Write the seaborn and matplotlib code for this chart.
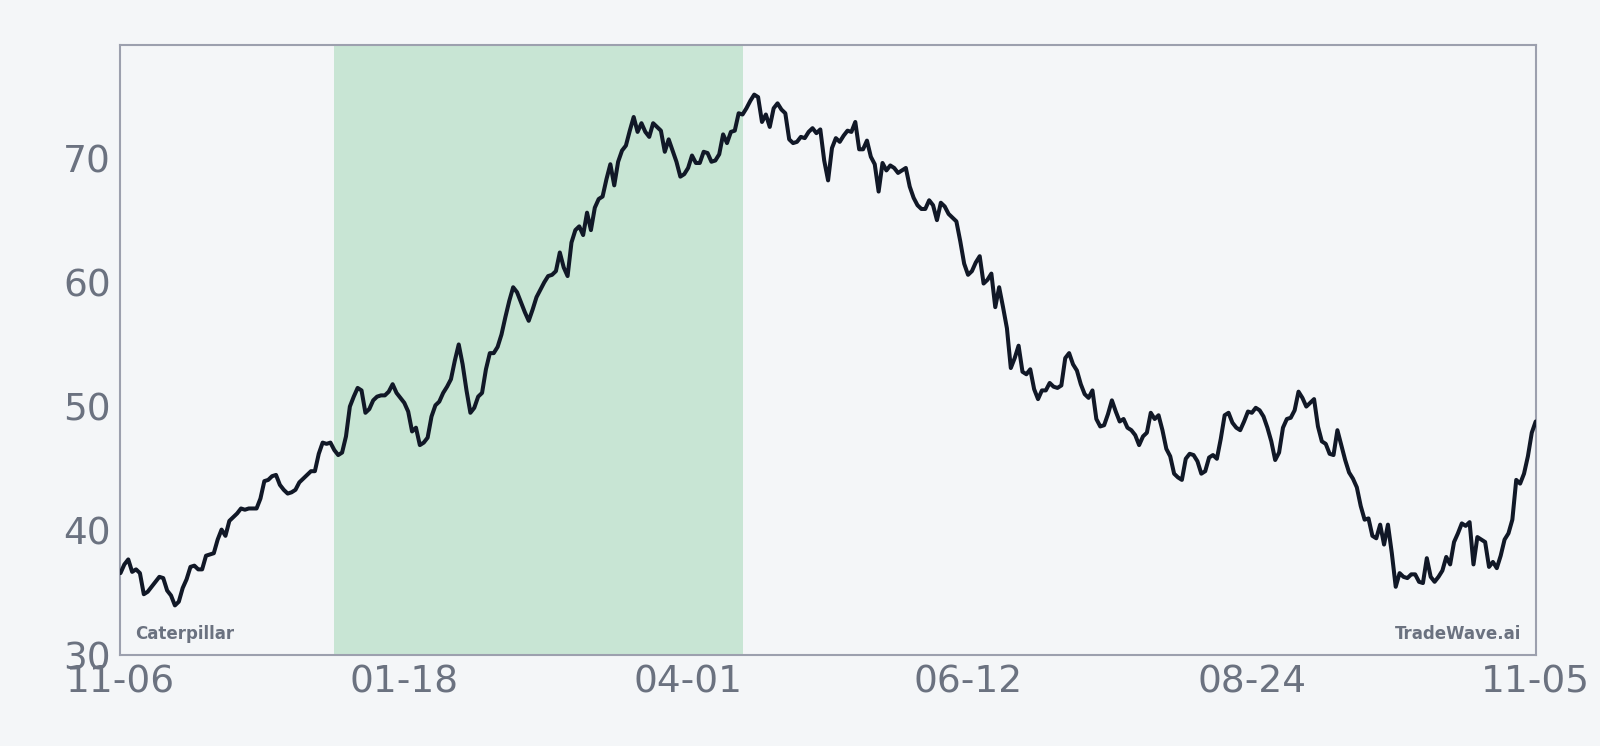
"""
Caterpillar price line with highlighted window
"""

import pandas as pd
import numpy as np
import matplotlib
matplotlib.use("Agg")
import matplotlib.pyplot as plt
import seaborn as sns


# daily closes, 2024-11-06 .. 2025-11-05
start_date = "2024-11-06"
end_date = "2025-11-05"
price = [
    36.6, 37.3, 37.7, 36.7, 36.9, 36.6, 34.9, 35.1, 35.5, 35.9,
    36.3, 36.2, 35.2, 34.8, 34.0, 34.3, 35.4, 36.1, 37.1, 37.2,
    36.9, 36.9, 38.0, 38.1, 38.2, 39.3, 40.1, 39.6, 40.8, 41.1,
    41.4, 41.8, 41.7, 41.8, 41.8, 41.8, 42.6, 44.0, 44.1, 44.4,
    44.5, 43.7, 43.3, 43.0, 43.1, 43.3, 43.9, 44.2, 44.5, 44.8,
    44.8, 46.2, 47.1, 47.0, 47.1, 46.5, 46.1, 46.3, 47.6, 50.0,
    50.8, 51.5, 51.3, 49.5, 49.8, 50.5, 50.8, 50.9, 50.9, 51.2,
    51.8, 51.1, 50.7, 50.3, 49.6, 48.0, 48.3, 46.9, 47.1, 47.5,
    49.2, 50.1, 50.4, 51.1, 51.6, 52.2, 53.7, 55.0, 53.4, 51.3,
    49.5, 49.9, 50.8, 51.1, 53.0, 54.3, 54.3, 54.8, 55.8, 57.2,
    58.5, 59.6, 59.2, 58.4, 57.6, 56.9, 57.8, 58.8, 59.4, 60.0,
    60.5, 60.6, 60.9, 62.4, 61.2, 60.5, 63.2, 64.2, 64.5, 63.8,
    65.6, 64.2, 66.0, 66.7, 66.9, 68.3, 69.5, 67.8, 69.7, 70.6,
    71.0, 72.2, 73.3, 72.1, 72.8, 72.1, 71.7, 72.8, 72.5, 72.2,
    70.5, 71.5, 70.6, 69.7, 68.5, 68.7, 69.2, 70.2, 69.6, 69.6,
    70.5, 70.4, 69.7, 69.8, 70.3, 71.9, 71.2, 72.1, 72.2, 73.6,
    73.5, 74.0, 74.6, 75.1, 74.9, 72.9, 73.5, 72.5, 74.0, 74.4,
    73.9, 73.6, 71.5, 71.2, 71.3, 71.7, 71.6, 72.1, 72.4, 72.0,
    72.3, 69.8, 68.2, 70.8, 71.6, 71.3, 71.8, 72.2, 72.1, 72.9,
    70.7, 70.7, 71.4, 70.1, 69.5, 67.3, 69.6, 69.0, 69.4, 69.2,
    68.8, 69.0, 69.2, 67.7, 66.8, 66.2, 65.9, 65.9, 66.6, 66.2,
    65.0, 66.4, 66.1, 65.5, 65.2, 64.9, 63.3, 61.5, 60.6, 60.9,
    61.6, 62.1, 59.9, 60.2, 60.7, 58.0, 59.6, 58.0, 56.3, 53.1,
    53.9, 54.9, 52.8, 52.6, 53.0, 51.4, 50.6, 51.3, 51.3, 51.9,
    51.6, 51.5, 51.7, 53.9, 54.3, 53.4, 52.9, 51.8, 51.0, 50.7,
    51.3, 49.0, 48.4, 48.5, 49.4, 50.5, 49.6, 48.8, 49.0, 48.3,
    48.1, 47.7, 46.9, 47.6, 47.9, 49.5, 49.0, 49.3, 48.1, 46.6,
    46.0, 44.6, 44.3, 44.1, 45.8, 46.2, 46.1, 45.6, 44.6, 44.8,
    45.9, 46.1, 45.8, 47.4, 49.3, 49.5, 48.7, 48.3, 48.1, 48.8,
    49.6, 49.5, 49.9, 49.7, 49.2, 48.3, 47.2, 45.7, 46.3, 48.3,
    49.0, 49.1, 49.7, 51.2, 50.7, 50.0, 50.3, 50.6, 48.4, 47.2,
    47.0, 46.2, 46.1, 48.1, 46.9, 45.7, 44.7, 44.2, 43.5, 42.0,
    40.9, 41.0, 39.6, 39.4, 40.5, 38.9, 40.5, 38.2, 35.5, 36.6,
    36.3, 36.2, 36.5, 36.5, 35.9, 35.8, 37.8, 36.3, 35.9, 36.3,
    36.8, 37.9, 37.3, 39.1, 39.8, 40.6, 40.4, 40.7, 37.3, 39.5,
    39.3, 39.1, 37.1, 37.5, 37.0, 38.0, 39.3, 39.8, 40.9, 44.1,
    43.8, 44.6, 46.0, 47.9, 48.8,
]

# highlighted window
window_start = "2024-12-31"
window_end = "2025-04-15"

# axis ticks
x_tick_dates = ["2024-11-06", "2025-01-18", "2025-04-01", "2025-06-12", "2025-08-24", "2025-11-05"]
x_tick_labels = ["11-06", "01-18", "04-01", "06-12", "08-24", "11-05"]
y_ticks = [30, 40, 50, 60, 70]

ticker_name = "Caterpillar"
brand = "TradeWave.ai"


def main():
    bg = "#f4f6f8"
    grey = "#6b7280"
    spine = "#9ca0ae"

    sns.set_style("white", {"axes.facecolor": bg, "figure.facecolor": bg,
                            "axes.edgecolor": spine})
    plt.rcParams['font.family'] = ['DejaVu Sans']

    df = pd.DataFrame({
        "date": pd.date_range(start_date, end_date, freq="D"),
        "price": price,
    })

    fig = plt.figure(figsize=(16, 7.46), dpi=100)
    ax = fig.add_axes([0.0753, 0.1218, 0.8845, 0.818])

    # shaded window
    ax.axvspan(pd.Timestamp(window_start), pd.Timestamp(window_end),
               color="#c8e5d4", zorder=0, lw=0)

    sns.lineplot(data=df, x="date", y="price", ax=ax, color="#111827",
                 linewidth=2.9, zorder=3)

    ax.set_xlim(df["date"].iloc[0], df["date"].iloc[-1])
    ax.set_ylim(30, 79.1)

    ax.set_xticks(pd.to_datetime(x_tick_dates))
    ax.set_xticklabels(x_tick_labels)
    ax.set_yticks(y_ticks)

    ax.tick_params(axis="both", labelsize=27, colors=grey, length=5,
                   width=1, pad=2, color=spine)
    ax.set_xlabel("")
    ax.set_ylabel("")

    for s in ax.spines.values():
        s.set_color(spine)
        s.set_linewidth(1.5)

    # watermarks
    ax.text(0.01, 0.02, ticker_name, transform=ax.transAxes, fontsize=12,
            fontweight="bold", color=grey, ha="left", va="bottom")
    ax.text(0.99, 0.02, brand, transform=ax.transAxes, fontsize=12,
            fontweight="bold", color=grey, ha="right", va="bottom")

    fig.savefig("out.png", dpi=100, facecolor=bg)
    plt.close(fig)


if __name__ == "__main__":
    main()
